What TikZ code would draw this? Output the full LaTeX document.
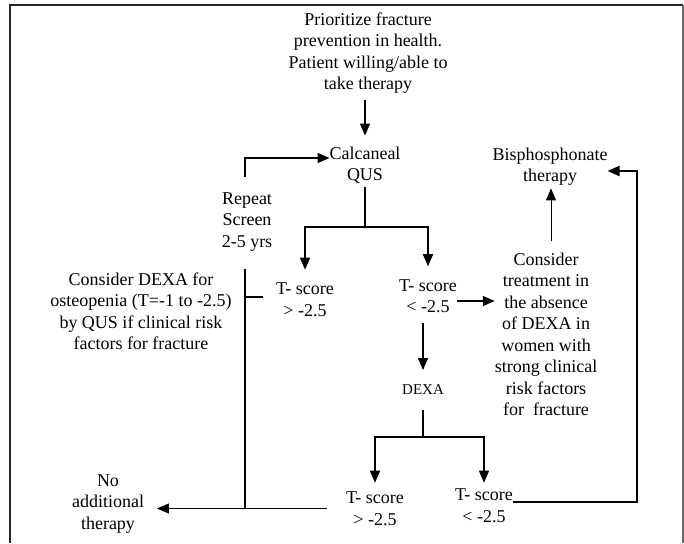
\documentclass[tikz,border=0pt]{standalone}
\usepackage{fontspec}
\setmainfont{Liberation Serif}
\usetikzlibrary{arrows.meta}
\begin{document}
\begin{tikzpicture}[x=1pt,y=-1pt,
  txt/.style={align=center,inner sep=0pt,outer sep=0pt,font=\fontsize{18}{21.5}\selectfont},
  small/.style={align=center,inner sep=0pt,outer sep=0pt,font=\fontsize{15}{18}\selectfont},
  ln/.style={line width=1.3pt},
  arr/.style={line width=1.3pt,-{Triangle[length=12pt,width=10pt]}},
  thk/.style={line width=2.3pt}]
\useasboundingbox (0,0) rectangle (684,543);
% frame
\draw[line width=2pt,black!85] (10,543) -- (10,5) -- (683,5);
\draw[line width=1.5pt,black!60] (683,5) -- (683,543);

\node[txt] (title) at (368,53) {Prioritize fracture\\prevention in health.\\Patient willing/able to\\take therapy};
\node[txt] (calc) at (365,165) {Calcaneal\\QUS};
\node[txt] (rep) at (247,222) {Repeat\\Screen\\2-5 yrs};
\node[txt] (cdexa) at (141,311) {Consider DEXA for\\osteopenia (T=-1 to -2.5)\\by QUS if clinical risk\\factors for fracture};
\node[txt] (t1) at (305,299.5) {T- score\\{>} -2.5};
\node[txt] (t2) at (428,296) {T- score\\{<} -2.5};
\node[txt] (cons) at (546,334.5) {Consider\\treatment in\\the absence\\of DEXA in\\women with\\strong clinical\\risk factors\\for\ \ fracture};
\node[txt] (bis) at (550,166.5) {Bisphosphonate\\therapy};
\node[small] (dexa) at (423,390) {DEXA};
\node[txt] (t3) at (375,508.5) {T- score\\{>} -2.5};
\node[txt] (t4) at (484,505.5) {T- score\\{<} -2.5};
\node[txt] (noadd) at (108,504) {No\\additional\\therapy};

\coordinate (qb) at (365,227);
\coordinate (db) at (423,437);
\coordinate (lv) at (245,269);
\coordinate (tick) at (263,297);
\coordinate (loopx) at (637,300);

% title -> calcaneal
\draw[arr,shorten <=6pt,shorten >=11pt] (title.south -| calc.north) -- (calc.north);
% repeat -> calcaneal
\draw[arr,shorten <=16pt] (rep.north -| lv) |- ([yshift=7pt]calc.west);
% QUS branch
\draw[line width=2.6pt] ([yshift=-4pt]calc.south) -- (qb);
\draw[arr,line width=1.5pt,shorten >=13pt] (qb) -| (t1.north);
\draw[arr,line width=1.5pt,shorten >=13pt] (qb) -| (t2.north);
% T2 -> consider treatment
\draw[arr] ([yshift=-5pt]t2.east) -- ([yshift=-5pt]t2.east -| cons.west);
% consider -> bisphosphonate
\draw[arr,line width=1pt,shorten <=12pt,shorten >=3pt] (cons.north -| 551,0) -- (bis.south -| 551,0);
% T2 -> DEXA
\draw[arr,shorten <=10pt,shorten >=15pt] (t2.south -| dexa.north) -- (dexa.north);
% DEXA branch
\draw[ln,shorten <=15pt] (dexa.south) -- (db);
\draw[arr,shorten >=9pt] (db) -| (t3.north);
\draw[arr,shorten >=6pt] (db) -| (t4.north);
% T4 -> bisphosphonate loop
\draw[arr,line width=2pt] ([yshift=3.5pt]t4.east) -| (loopx) |- ([yshift=-4.5pt]bis.east);
% left vertical and T3 -> no additional therapy
\draw[line width=2.2pt] (lv) -- (lv |- t3.west);
\draw[line width=2pt] (tick) -- (tick -| lv);
\draw[arr,shorten <=19pt,shorten >=13pt] (t3.west) -- (t3.west -| noadd.east);
\end{tikzpicture}
\end{document}
